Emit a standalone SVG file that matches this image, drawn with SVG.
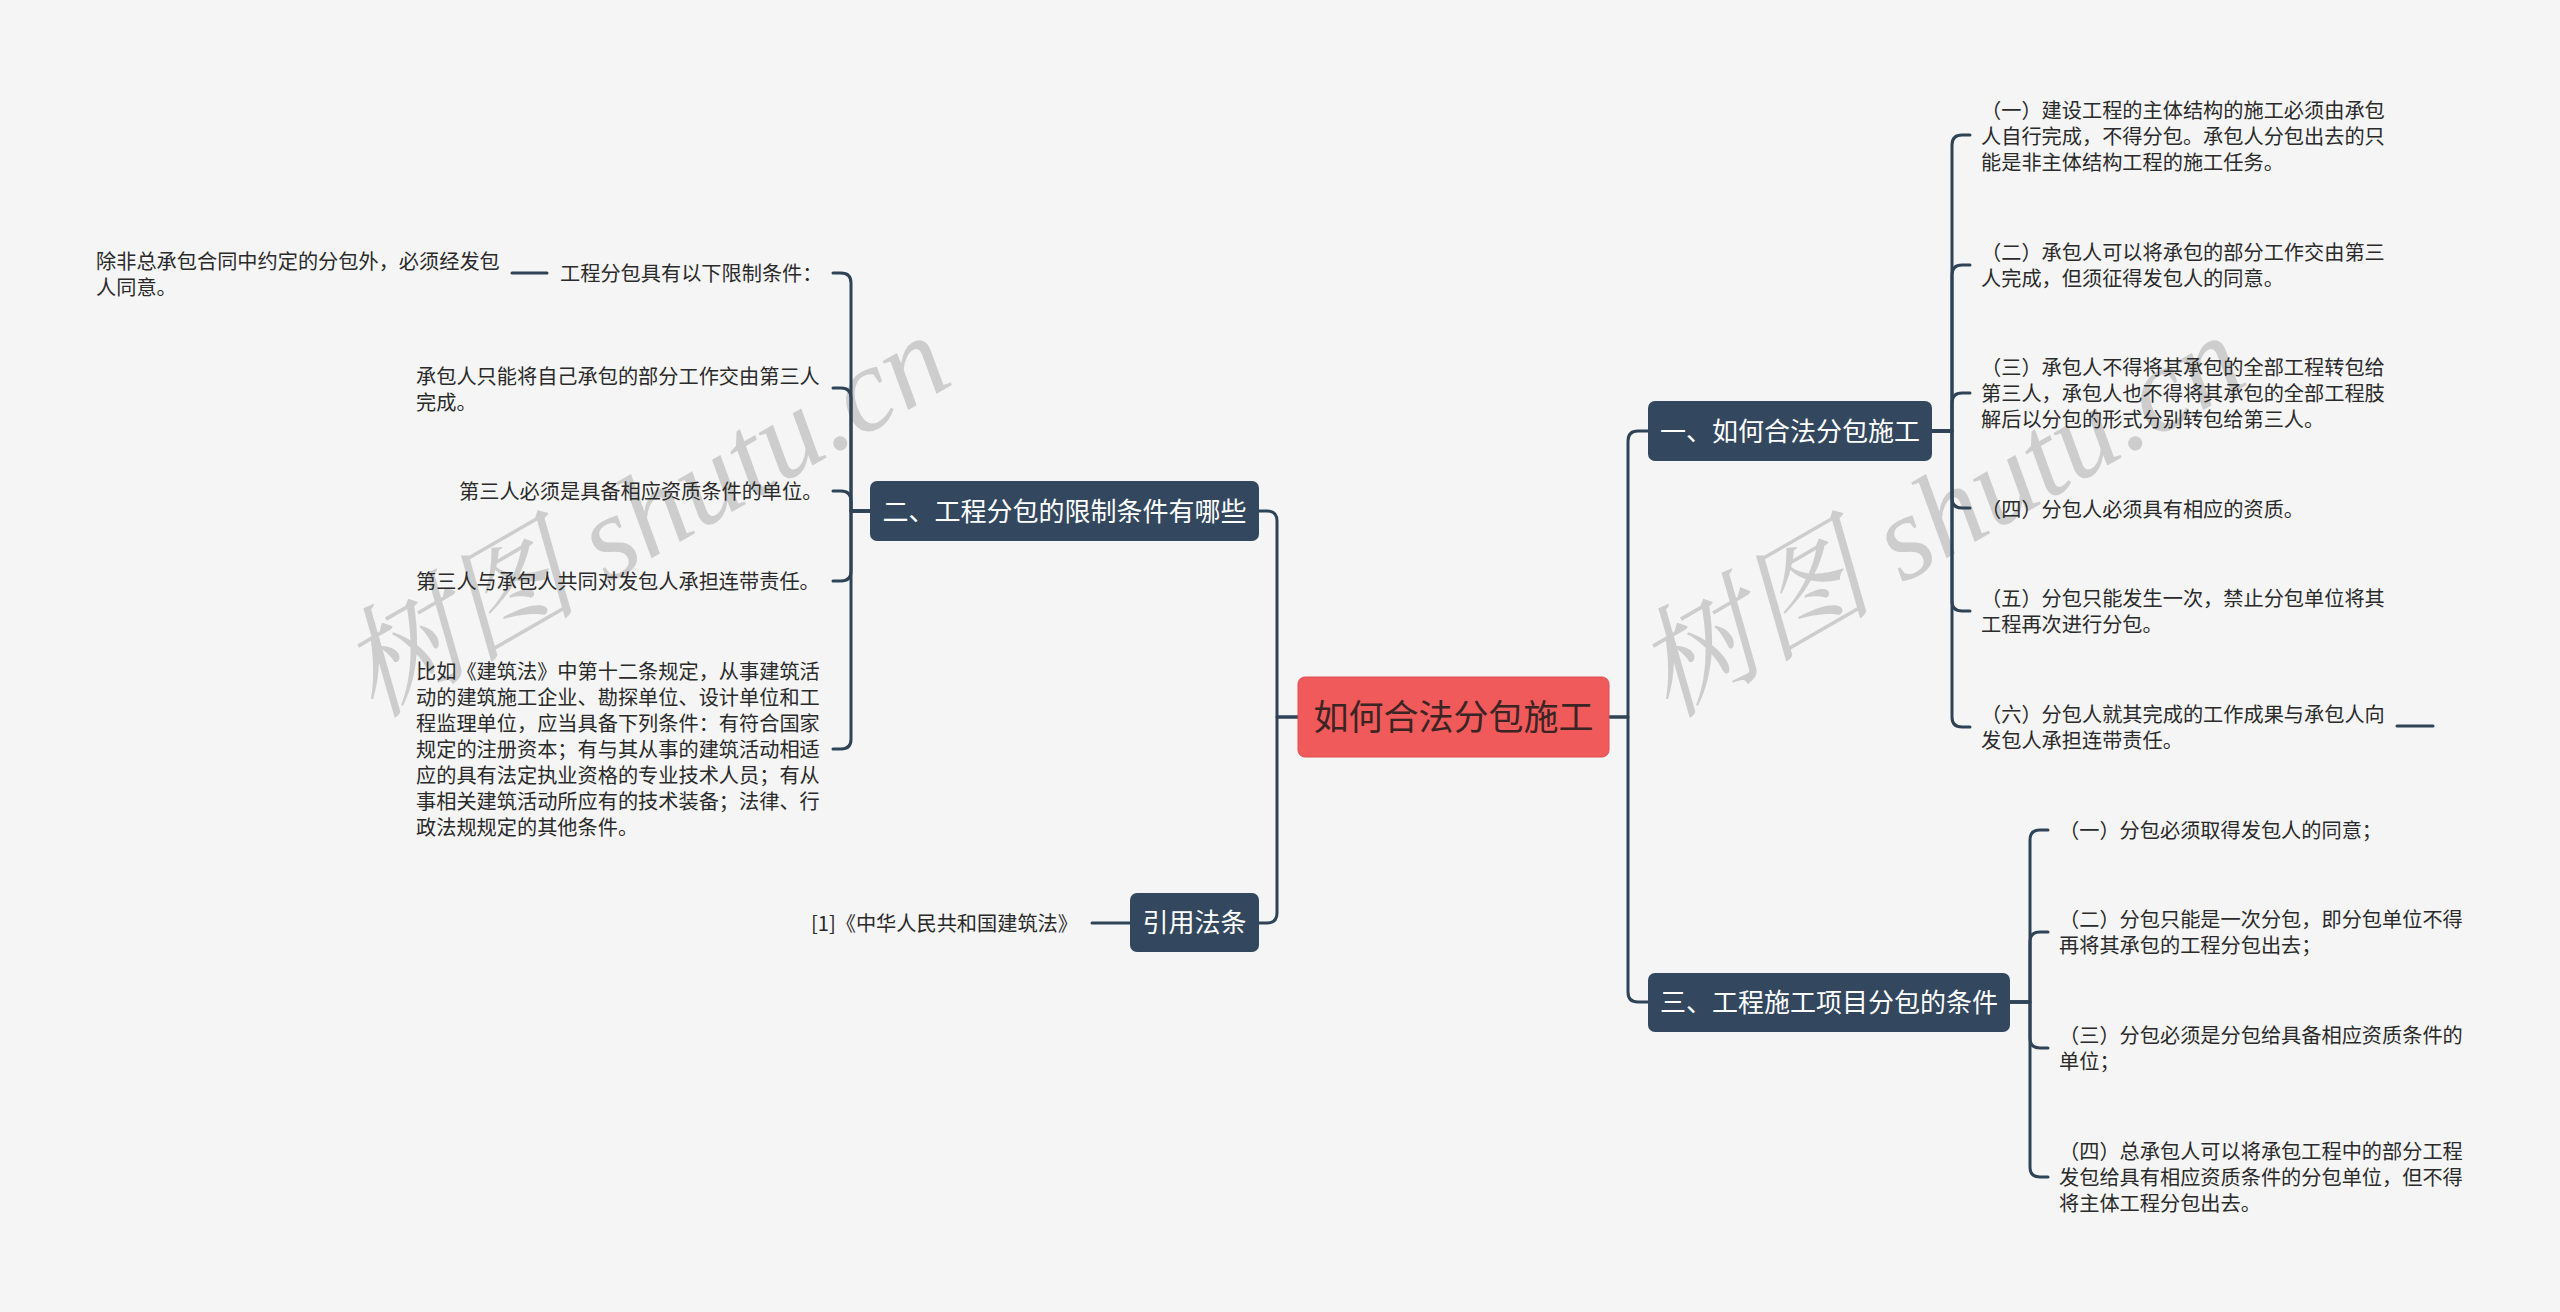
<svg xmlns="http://www.w3.org/2000/svg" width="2560" height="1312" viewBox="0 0 2560 1312">
<style>
.bg{fill:#f5f5f5}
.node{fill:#33485e}
.root{fill:#f05a5a;stroke:#e04e50;stroke-width:1}
.nt{font-family:"Noto Sans CJK SC","Noto Sans",sans-serif;font-size:26px;fill:#ffffff;text-anchor:middle}
.rt{font-family:"Noto Sans CJK SC","Noto Sans",sans-serif;font-size:35px;fill:#3a2424;text-anchor:middle}
.t{font-family:"Noto Sans CJK SC","Noto Sans",sans-serif;font-size:20.2px;fill:#2a2a2a}
.c{fill:none;stroke:#2f4357;stroke-width:3;stroke-linecap:round;stroke-linejoin:round}
.wm{font-family:"Liberation Serif","Noto Serif CJK SC","Noto Sans CJK SC",serif;font-style:italic;font-size:120px;fill:#b4b4b4;opacity:0.6;text-anchor:middle}
</style>
<rect class="bg" x="0" y="0" width="2560" height="1312"/>

<g id="watermarks">
<text class="wm" transform="translate(645,516) rotate(-30)" x="0" y="40">树图 shutu.cn</text>
<text class="wm" transform="translate(1940,516) rotate(-30)" x="0" y="40">树图 shutu.cn</text>
</g>

<g id="connectors">
<path class="c" d="M1609,717 H1628 V441 Q1628,431 1638,431 H1648"/>
<path class="c" d="M1609,717 H1628 V992 Q1628,1002 1638,1002 H1648"/>
<path class="c" d="M1298,717 H1277 V521 Q1277,511 1267,511 H1259"/>
<path class="c" d="M1298,717 H1277 V913 Q1277,923 1267,923 H1259"/>
<path class="c" d="M1932,431 H1952 V145 Q1952,135 1962,135 H1970"/>
<path class="c" d="M1932,431 H1952 V275 Q1952,265 1962,265 H1970"/>
<path class="c" d="M1932,431 H1952 V403 Q1952,393 1962,393 H1970"/>
<path class="c" d="M1932,431 H1952 V498 Q1952,508 1962,508 H1970"/>
<path class="c" d="M1932,431 H1952 V601 Q1952,611 1962,611 H1970"/>
<path class="c" d="M1932,431 H1952 V717 Q1952,727 1962,727 H1970"/>
<path class="c" d="M2397,726 H2433"/>
<path class="c" d="M2010,1002 H2030 V840 Q2030,830 2040,830 H2048"/>
<path class="c" d="M2010,1002 H2030 V942 Q2030,932 2040,932 H2048"/>
<path class="c" d="M2010,1002 H2030 V1038 Q2030,1048 2040,1048 H2048"/>
<path class="c" d="M2010,1002 H2030 V1167 Q2030,1177 2040,1177 H2048"/>
<path class="c" d="M870,511 H851 V283 Q851,273 841,273 H833"/>
<path class="c" d="M870,511 H851 V398 Q851,388 841,388 H833"/>
<path class="c" d="M870,511 H851 V501 Q851,491 841,491 H833"/>
<path class="c" d="M870,511 H851 V571 Q851,581 841,581 H833"/>
<path class="c" d="M870,511 H851 V739 Q851,749 841,749 H833"/>
<path class="c" d="M547,273 H512"/>
<path class="c" d="M1130,923 H1092"/>
</g>

<g id="root">
<rect class="root" x="1298" y="677" width="311" height="80" rx="7"/>
<text class="rt" x="1453.5" y="730">如何合法分包施工</text>
</g>

<g id="n1">
<rect class="node" x="1648" y="401" width="284" height="60" rx="7"/>
<text class="nt" x="1790" y="441">一、如何合法分包施工</text>
</g>
<g id="n2">
<rect class="node" x="870" y="481" width="389" height="60" rx="7"/>
<text class="nt" x="1064.5" y="521">二、工程分包的限制条件有哪些</text>
</g>
<g id="n3">
<rect class="node" x="1648" y="973" width="362" height="59" rx="7"/>
<text class="nt" x="1829" y="1012">三、工程施工项目分包的条件</text>
</g>
<g id="n4">
<rect class="node" x="1130" y="893" width="129" height="59" rx="7"/>
<text class="nt" x="1194.5" y="932">引用法条</text>
</g>

<g id="n1-1"><text class="t" y="118"><tspan x="1981">（一）建设工程的主体结构的施工必须由承包</tspan><tspan x="1981" dy="26">人自行完成，不得分包。承包人分包出去的只</tspan><tspan x="1981" dy="26">能是非主体结构工程的施工任务。</tspan></text></g>
<g id="n1-2"><text class="t" y="260"><tspan x="1981">（二）承包人可以将承包的部分工作交由第三</tspan><tspan x="1981" dy="26">人完成，但须征得发包人的同意。</tspan></text></g>
<g id="n1-3"><text class="t" y="375"><tspan x="1981">（三）承包人不得将其承包的全部工程转包给</tspan><tspan x="1981" dy="26">第三人，承包人也不得将其承包的全部工程肢</tspan><tspan x="1981" dy="26">解后以分包的形式分别转包给第三人。</tspan></text></g>
<g id="n1-4"><text class="t" x="1981" y="517">（四）分包人必须具有相应的资质。</text></g>
<g id="n1-5"><text class="t" y="606"><tspan x="1981">（五）分包只能发生一次，禁止分包单位将其</tspan><tspan x="1981" dy="26">工程再次进行分包。</tspan></text></g>
<g id="n1-6"><text class="t" y="722"><tspan x="1981">（六）分包人就其完成的工作成果与承包人向</tspan><tspan x="1981" dy="26">发包人承担连带责任。</tspan></text></g>

<g id="n3-1"><text class="t" x="2059" y="838">（一）分包必须取得发包人的同意；</text></g>
<g id="n3-2"><text class="t" y="927"><tspan x="2059">（二）分包只能是一次分包，即分包单位不得</tspan><tspan x="2059" dy="26">再将其承包的工程分包出去；</tspan></text></g>
<g id="n3-3"><text class="t" y="1043"><tspan x="2059">（三）分包必须是分包给具备相应资质条件的</tspan><tspan x="2059" dy="26">单位；</tspan></text></g>
<g id="n3-4"><text class="t" y="1159"><tspan x="2059">（四）总承包人可以将承包工程中的部分工程</tspan><tspan x="2059" dy="26">发包给具有相应资质条件的分包单位，但不得</tspan><tspan x="2059" dy="26">将主体工程分包出去。</tspan></text></g>

<g id="n2-1"><text class="t" x="560" y="281">工程分包具有以下限制条件：</text></g>
<g id="n2-1-1"><text class="t" y="269"><tspan x="96">除非总承包合同中约定的分包外，必须经发包</tspan><tspan x="96" dy="26">人同意。</tspan></text></g>
<g id="n2-2"><text class="t" y="384"><tspan x="416">承包人只能将自己承包的部分工作交由第三人</tspan><tspan x="416" dy="26">完成。</tspan></text></g>
<g id="n2-3"><text class="t" x="459" y="499">第三人必须是具备相应资质条件的单位。</text></g>
<g id="n2-4"><text class="t" x="416" y="589">第三人与承包人共同对发包人承担连带责任。</text></g>
<g id="n2-5"><text class="t" y="679"><tspan x="416">比如《建筑法》中第十二条规定，从事建筑活</tspan><tspan x="416" dy="26">动的建筑施工企业、勘探单位、设计单位和工</tspan><tspan x="416" dy="26">程监理单位，应当具备下列条件：有符合国家</tspan><tspan x="416" dy="26">规定的注册资本；有与其从事的建筑活动相适</tspan><tspan x="416" dy="26">应的具有法定执业资格的专业技术人员；有从</tspan><tspan x="416" dy="26">事相关建筑活动所应有的技术装备；法律、行</tspan><tspan x="416" dy="26">政法规规定的其他条件。</tspan></text></g>

<g id="n4-1"><text class="t" x="1078" y="931" text-anchor="end">[1]《中华人民共和国建筑法》</text></g>
</svg>
